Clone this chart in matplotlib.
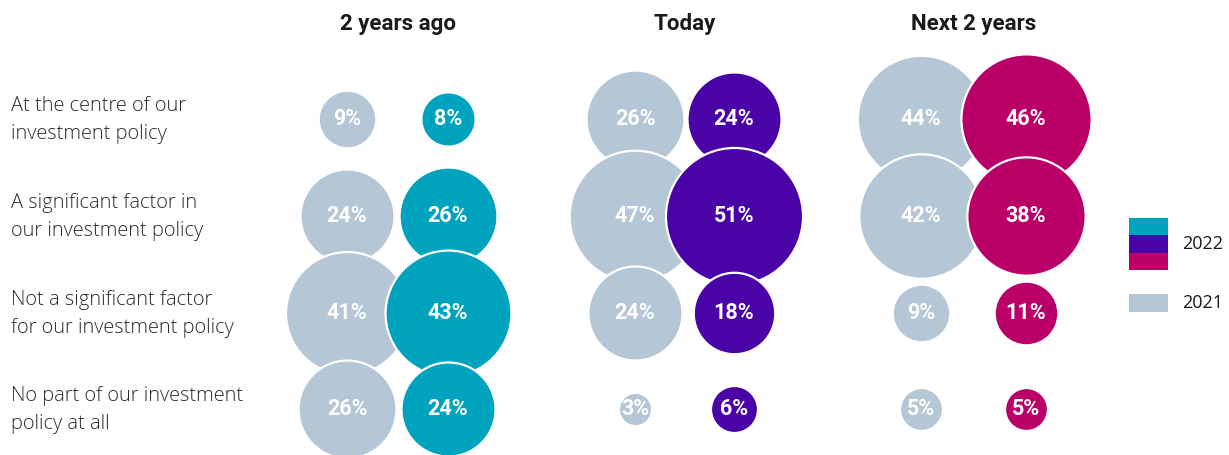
import numpy as np
import matplotlib
matplotlib.use("Agg")
import matplotlib.pyplot as plt
from matplotlib.patches import Rectangle

# ---- data ----
categories = [
    "At the centre of our\ninvestment policy",
    "A significant factor in\nour investment policy",
    "Not a significant factor\nfor our investment policy",
    "No part of our investment\npolicy at all",
]
groups = ["2 years ago", "Today", "Next 2 years"]
values_2021 = [
    [9, 24, 41, 26],   # 2 years ago
    [26, 47, 24, 3],   # Today
    [44, 42, 9, 5],    # Next 2 years
]
values_2022 = [
    [8, 26, 43, 24],
    [24, 51, 18, 6],
    [46, 38, 11, 5],
]
legend_labels = ["2022", "2021"]

# ---- style ----
c2021 = "#B5C6D6"
c2022 = ["#00A3BE", "#4A03A6", "#BA0068"]
text_dark = "#1a1a1a"
label_col = "#2a2a2a"

W, H, DPI = 1229, 455, 100
fig = plt.figure(figsize=(W / DPI, H / DPI), dpi=DPI)
ax = fig.add_axes([0, 0, 1, 1])
ax.set_xlim(0, W)
ax.set_ylim(H, 0)
ax.axis("off")

pair_x = [(347, 448), (635, 734), (921, 1026)]
row_y = [119, 216, 313, 409]
size_per_pct = 191.0  # scatter area (pt^2) per percentage point

for ri, y in enumerate(row_y):
    xs, ss, cs, labs = [], [], [], []
    for gi in range(len(groups)):
        xa, xb = pair_x[gi]
        xs += [xa, xb]
        ss += [values_2021[gi][ri] * size_per_pct, values_2022[gi][ri] * size_per_pct]
        cs += [c2021, c2022[gi]]
        labs += [values_2021[gi][ri], values_2022[gi][ri]]
    for x, s, c, v in zip(xs, ss, cs, labs):
        ax.scatter([x], [y], s=s, c=c, edgecolors="white", linewidths=1.6,
                   zorder=2 + ri * 2)
        ax.text(x, y, f"{v}%", ha="center", va="center", color="white",
                fontsize=15.5, fontweight="bold", family="Roboto",
                zorder=20)

# row labels
for ri, (lab, y) in enumerate(zip(categories, row_y)):
    ax.text(11, y + 1, lab, ha="left", va="center", fontsize=14.4,
            family="Open Sans", fontweight="light", color=label_col,
            linespacing=1.55)

# group titles
for gi, g in enumerate(groups):
    cx = sum(pair_x[gi]) / 2
    ax.text(cx, 24, g, ha="center", va="center", fontsize=16,
            fontweight="bold", family="Roboto", color=text_dark)

# legend
lx, lw = 1129, 39
for k, c in enumerate(c2022):
    ax.add_patch(Rectangle((lx, 218 + k * 17.3), lw, 17.3, color=c, lw=0))
ax.text(1182, 244, legend_labels[0], ha="left", va="center", fontsize=13,
        family="Open Sans", color=text_dark)
ax.add_patch(Rectangle((lx, 294), lw, 18, color=c2021, lw=0))
ax.text(1182, 303, legend_labels[1], ha="left", va="center", fontsize=13,
        family="Open Sans", color=text_dark)

fig.savefig("out.png", dpi=DPI)
